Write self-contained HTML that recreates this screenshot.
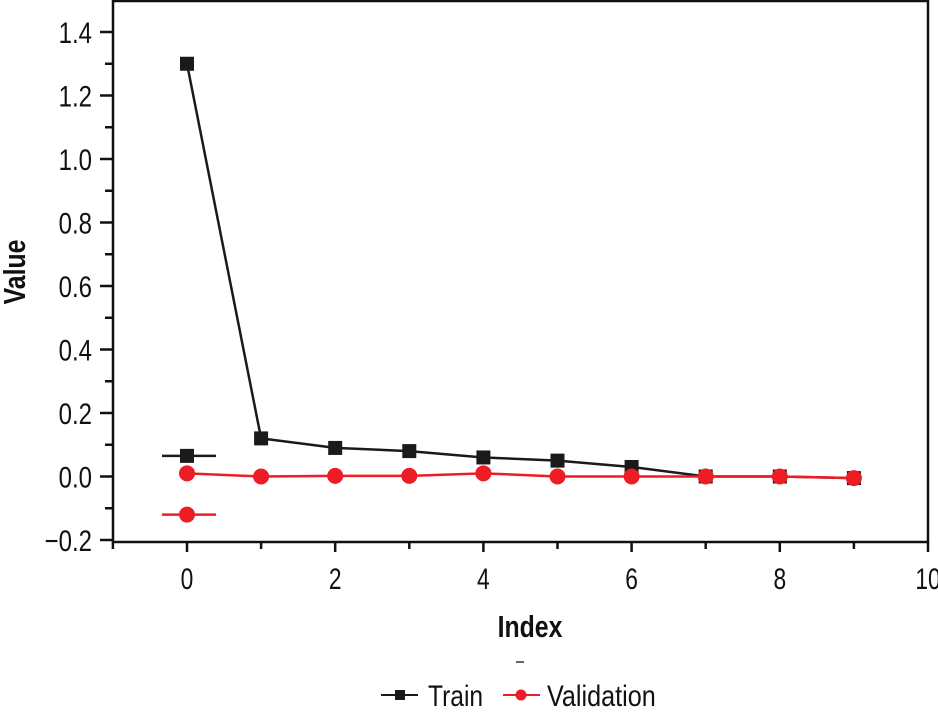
<!DOCTYPE html>
<html><head><meta charset="utf-8"><style>
body{margin:0;background:#fff;}
svg text{font-family:"Liberation Sans",sans-serif;}
</style></head><body>
<svg width="938" height="708" xmlns="http://www.w3.org/2000/svg">
<g id="axes"></g><g id="series"></g>
</svg>
<script>
const xTicks=[0,2,4,6,8,10];
const yTicks=[-0.2,0,0.2,0.4,0.6,0.8,1.0,1.2,1.4];
const yTickLabels=["\u22120.2","0.0","0.2","0.4","0.6","0.8","1.0","1.2","1.4"];
const indexes=[0,1,2,3,4,5,6,7,8,9];
const train=[1.30,0.12,0.09,0.08,0.06,0.05,0.03,0.0,0.0,-0.005];
const validation=[0.01,0.0,0.002,0.002,0.01,0.0,0.0,0.0,0.0,-0.005];
const strayTrain=[0.065];
const strayVal=[-0.12];
const NS="http://www.w3.org/2000/svg";
const L=113,R=928,T=1,B=542;
const sx=v=>187+(v-0)*74.1;
const sy=v=>476.5-v*317.5;
function mk(tag,attrs,parent){const e=document.createElementNS(NS,tag);for(const k in attrs)e.setAttribute(k,attrs[k]);parent.appendChild(e);return e;}
const ax=document.getElementById('axes'),se=document.getElementById('series');
let f=mk('rect',{x:L,y:T,width:R-L,height:B-T,fill:'none',stroke:'#111','stroke-width':2.5},ax);


for(let i=-1;i<=10;i++){const t=mk('line',{x1:sx(i),x2:sx(i),y1:B,y2:B+(i%2===0?10:7),stroke:'#111','stroke-width':2.5},ax);

}
xTicks.forEach(v=>{const t=mk('text',{x:sx(v),y:B+47,'font-size':30,'text-anchor':'middle',fill:'#111',transform:`translate(${sx(v)},0) scale(0.76,1) translate(${-sx(v)},0)`},ax);t.textContent=v;

});
for(let v=-0.2;v<=1.41;v+=0.1){const major=Math.round(v*10)%2===0;const t=mk('line',{x1:L-(major?13:8),x2:L,y1:sy(v),y2:sy(v),stroke:'#111','stroke-width':2.5},ax);

}
yTicks.forEach((v,i)=>{const t=mk('text',{x:92,y:sy(v)+11,'font-size':30,'text-anchor':'end',fill:'#111',transform:`translate(92,0) scale(0.8,1) translate(-92,0)`},ax);t.textContent=yTickLabels[i];

});
let xt=mk('text',{x:530,y:637,'font-size':31,'font-weight':'bold','text-anchor':'middle',fill:'#111',transform:'translate(530,0) scale(0.8,1) translate(-530,0)'},ax);xt.textContent='Index';


let yt=mk('text',{x:0,y:0,'font-size':31,'font-weight':'bold','text-anchor':'middle',fill:'#111',transform:'translate(25,272) rotate(-90) scale(0.8,1)'},ax);yt.textContent='Value';


let dash=mk('line',{x1:516,x2:524,y1:662,y2:662,stroke:'#333','stroke-width':1.5},ax);


function series(vals,color,name,square){
 const pts=vals.map((v,i)=>sx(indexes[i])+','+sy(v)).join(' ');
 const pl=mk('polyline',{points:pts,fill:'none',stroke:color,'stroke-width':2.5},se);
 
 
 vals.forEach((v,i)=>{const m=square?mk('rect',{x:sx(indexes[i])-7,y:sy(v)-7,width:14,height:14,fill:color},se):mk('circle',{cx:sx(indexes[i]),cy:sy(v),r:8,fill:color},se);
 
 });
}
series(train,'#1a1a1a','train',true);
series(validation,'#ee1c25','validation',false);
function stray(v,color,name,square){
 const l=mk('line',{x1:162,x2:216,y1:sy(v),y2:sy(v),stroke:color,'stroke-width':2.5},se);
 
 
 const m=square?mk('rect',{x:sx(0)-7,y:sy(v)-7,width:14,height:14,fill:color},se):mk('circle',{cx:sx(0),cy:sy(v),r:8,fill:color},se);
 
 
}
stray(strayTrain[0],'#1a1a1a','train',true);
stray(strayVal[0],'#ee1c25','validation',false);
const lg=mk('g',{},se);


let l1=mk('line',{x1:381,x2:418,y1:695,y2:695,stroke:'#1a1a1a','stroke-width':2},lg);


let m1=mk('rect',{x:395,y:690,width:10,height:10,fill:'#1a1a1a'},lg);


let t1=mk('text',{x:428,y:706,'font-size':30,fill:'#111',transform:'translate(428,0) scale(0.82,1) translate(-428,0)'},lg);t1.textContent='Train';


let l2=mk('line',{x1:503,x2:540,y1:695,y2:695,stroke:'#ee1c25','stroke-width':2},lg);


let m2=mk('circle',{cx:521,cy:695,r:5.5,fill:'#ee1c25'},lg);


let t2=mk('text',{x:547,y:706,'font-size':30,fill:'#111',transform:'translate(547,0) scale(0.84,1) translate(-547,0)'},lg);t2.textContent='Validation';


</script>
</body></html>
